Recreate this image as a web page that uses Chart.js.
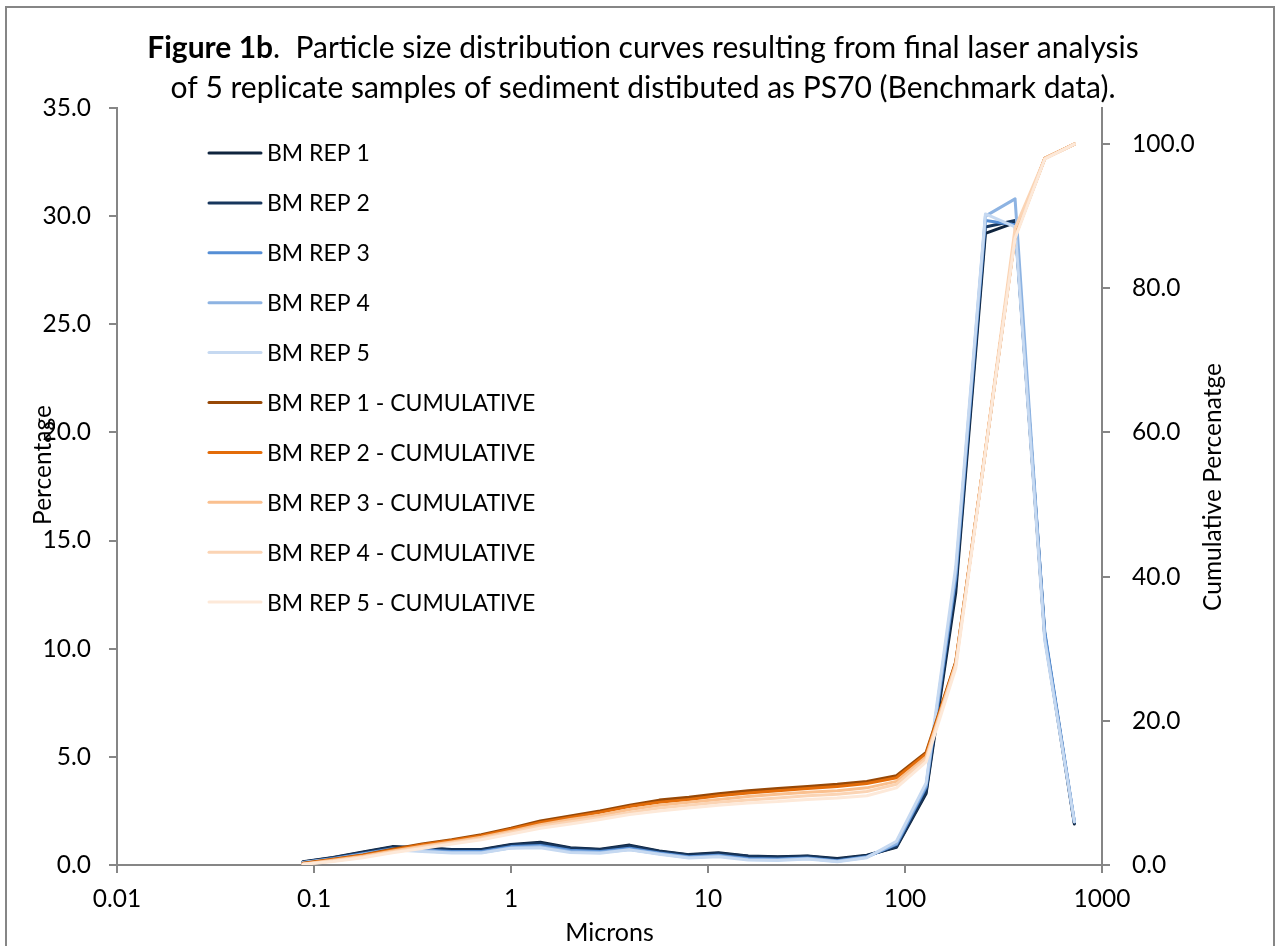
<!DOCTYPE html>
<html>
<head>
<meta charset="utf-8">
<title>Figure 1b - Particle size distribution</title>
<script src="https://cdn.jsdelivr.net/npm/chart.js@4.4.1/dist/chart.umd.min.js"></script>
<style>
  html, body { margin: 0; padding: 0; background: #fff; }
  #wrap { width: 1279px; height: 946px; }
</style>
</head>
<body>
<div id="wrap"><canvas id="psd" width="1279" height="946"></canvas></div>
<script>
// particle size bins (microns)
var sizes = [0.088, 0.125, 0.177, 0.25, 0.354, 0.5, 0.707, 1, 1.41, 2, 2.83, 4, 5.66, 8,
             11.3, 16, 22.6, 32, 45.3, 64, 90.5, 128, 181, 256, 362, 512, 724];

// percentage per bin
var rep1 = [0.15, 0.35, 0.6, 0.85, 0.8, 0.72, 0.72, 0.95, 1.05, 0.8, 0.73, 0.92, 0.65, 0.48,
            0.57, 0.42, 0.38, 0.42, 0.3, 0.45, 0.82, 3.3, 12.6, 29.2, 29.7, 10.6, 1.9];
var rep2 = [0.14, 0.34, 0.58, 0.82, 0.78, 0.7, 0.7, 0.92, 1.0, 0.78, 0.7, 0.88, 0.62, 0.46,
            0.53, 0.4, 0.36, 0.4, 0.27, 0.43, 0.85, 3.4, 12.9, 29.5, 29.8, 10.7, 1.95];
var rep3 = [0.12, 0.3, 0.52, 0.75, 0.7, 0.62, 0.62, 0.85, 0.9, 0.68, 0.62, 0.78, 0.56, 0.38,
            0.45, 0.3, 0.28, 0.32, 0.2, 0.38, 0.95, 3.6, 13.3, 29.8, 29.6, 10.8, 2.0];
var rep4 = [0.12, 0.28, 0.5, 0.72, 0.66, 0.58, 0.58, 0.8, 0.85, 0.62, 0.58, 0.72, 0.52, 0.35,
            0.42, 0.26, 0.24, 0.3, 0.17, 0.36, 1.0, 3.7, 13.5, 30.0, 30.8, 10.5, 2.0];
var rep5 = [0.1, 0.26, 0.47, 0.7, 0.62, 0.55, 0.55, 0.78, 0.8, 0.58, 0.54, 0.7, 0.5, 0.32,
            0.38, 0.23, 0.21, 0.28, 0.15, 0.34, 1.1, 3.8, 13.8, 30.1, 29.5, 10.4, 2.0];

// cumulative percentage
var cum1 = [0.25, 0.8, 1.4, 2.2, 2.9, 3.5, 4.2, 5.1, 6.1, 6.8, 7.5, 8.3, 9.0, 9.4,
            9.9, 10.3, 10.6, 10.9, 11.2, 11.6, 12.4, 15.6, 28.2, 57.4, 87.2, 98.0, 100];
var cum2 = [0.2, 0.75, 1.35, 2.1, 2.8, 3.4, 4.05, 4.95, 5.9, 6.6, 7.3, 8.1, 8.7, 9.1,
            9.6, 10.0, 10.3, 10.6, 10.9, 11.3, 12.1, 15.4, 28.1, 57.5, 87.3, 98.0, 100];
var cum3 = [0.15, 0.65, 1.2, 1.95, 2.6, 3.2, 3.85, 4.7, 5.6, 6.3, 6.9, 7.7, 8.3, 8.7,
            9.1, 9.5, 9.8, 10.1, 10.3, 10.7, 11.6, 15.0, 27.9, 57.5, 87.1, 98.0, 100];
var cum4 = [0.12, 0.55, 1.1, 1.8, 2.45, 3.05, 3.65, 4.5, 5.35, 6.0, 6.6, 7.3, 7.9, 8.3,
            8.7, 9.0, 9.3, 9.6, 9.8, 10.2, 11.2, 14.7, 27.7, 57.5, 88.3, 98.0, 100];
var cum5 = [0.1, 0.5, 1.0, 1.7, 2.3, 2.9, 3.5, 4.3, 5.1, 5.7, 6.3, 7.0, 7.5, 7.9,
            8.3, 8.6, 8.8, 9.1, 9.3, 9.6, 10.7, 14.3, 27.3, 57.3, 86.9, 97.9, 100];

var seriesNames = ["BM REP 1", "BM REP 2", "BM REP 3", "BM REP 4", "BM REP 5",
                   "BM REP 1 - CUMULATIVE", "BM REP 2 - CUMULATIVE", "BM REP 3 - CUMULATIVE",
                   "BM REP 4 - CUMULATIVE", "BM REP 5 - CUMULATIVE"];
var seriesColors = ["#0F243E", "#17365D", "#558ED5", "#8DB3E2", "#C6D9F1",
                    "#974806", "#E36C09", "#FAC08F", "#FBD4B4", "#FDE9D9"];

var xTicks = [0.01, 0.1, 1, 10, 100, 1000];
var xTickLabels = ["0.01", "0.1", "1", "10", "100", "1000"];
var yTicks = [0, 5, 10, 15, 20, 25, 30, 35];
var y1Ticks = [0, 20, 40, 60, 80, 100];

var FONT = "Lato, 'Open Sans', sans-serif";
var AXIS_GREY = "#868686";

function points(vals) {
  var out = [];
  for (var i = 0; i < sizes.length; i++) out.push({x: sizes[i], y: vals[i]});
  return out;
}

var allSeries = [rep1, rep2, rep3, rep4, rep5, cum1, cum2, cum3, cum4, cum5];
var datasets = [];
for (var i = 0; i < allSeries.length; i++) {
  datasets.push({
    label: seriesNames[i],
    data: points(allSeries[i]),
    yAxisID: i < 5 ? "y" : "y1",
    borderColor: seriesColors[i],
    backgroundColor: seriesColors[i],
    borderWidth: 3,
    pointRadius: 0,
    tension: 0,
    fill: false,
    borderJoinStyle: "round",
    borderCapStyle: "round",
    order: 20 - i  // later series painted on top, as in the original
  });
}

function vertText(ctx, text, x, y) {
  ctx.save();
  ctx.translate(x, y);
  ctx.rotate(-Math.PI / 2);
  ctx.textAlign = "center";
  ctx.fillText(text, 0, 0);
  ctx.restore();
}

// frame, title, both y axis titles (read bottom-up) and in-plot legend
var decor = {
  id: "decor",
  beforeDraw: function(chart) {
    var ctx = chart.ctx;
    ctx.save();
    ctx.fillStyle = "#fff";
    ctx.fillRect(0, 0, chart.width, chart.height);
    ctx.strokeStyle = AXIS_GREY;
    ctx.lineWidth = 2;
    ctx.strokeRect(6, 7, 1268, 980);
    ctx.restore();
  },
  afterDraw: function(chart) {
    var ctx = chart.ctx;
    ctx.save();
    ctx.fillStyle = "#000";
    ctx.textBaseline = "middle";

    // two-line title, "Figure 1b" in bold
    var bold = "bold 30px " + FONT, normal = "30px " + FONT;
    var head = "Figure 1b", rest = ".  Particle size distribution curves resulting from final laser analysis";
    ctx.font = bold;
    var wHead = ctx.measureText(head).width;
    ctx.font = normal;
    var wRest = ctx.measureText(rest).width;
    var x0 = 643 - (wHead + wRest) / 2;
    ctx.textAlign = "left";
    ctx.font = bold;
    ctx.fillText(head, x0, 48);
    ctx.font = normal;
    ctx.fillText(rest, x0 + wHead, 48);
    ctx.textAlign = "center";
    ctx.fillText("of 5 replicate samples of sediment distibuted as PS70 (Benchmark data).", 643, 88);

    // axis titles
    ctx.font = "24.5px " + FONT;
    vertText(ctx, "Percentage", 43, 465);
    vertText(ctx, "Cumulative Percenatge", 1213, 487);

    // legend
    ctx.textAlign = "left";
    ctx.lineCap = "round";
    ctx.font = "23px " + FONT;
    chart.data.datasets.forEach(function(ds, k) {
      var y = 153 + k * 49.9;
      ctx.strokeStyle = ds.borderColor;
      ctx.lineWidth = 3;
      ctx.beginPath();
      ctx.moveTo(209, y);
      ctx.lineTo(261, y);
      ctx.stroke();
      ctx.fillText(ds.label, 267, y + 1);
    });
    ctx.restore();
  }
};

var gridOpts = {display: true, drawOnChartArea: false, drawTicks: true, tickLength: 8, color: AXIS_GREY, lineWidth: 2};
var borderOpts = {display: true, color: AXIS_GREY, width: 2};

new Chart(document.getElementById("psd"), {
  type: "line",
  data: {datasets: datasets},
  options: {
    responsive: false,
    animation: false,
    devicePixelRatio: 1,
    layout: {padding: {top: 108, left: 0, right: 0, bottom: 0}},
    plugins: {legend: {display: false}, tooltip: {enabled: false}, title: {display: false}},
    scales: {
      x: {
        type: "logarithmic",
        position: "bottom",
        min: 0.01,
        max: 1000,
        afterBuildTicks: function(s) { s.ticks = xTicks.map(function(v) { return {value: v}; }); },
        afterFit: function(s) { s.height = 81; },
        ticks: {
          autoSkip: false, maxRotation: 0, padding: 11, color: "#000",
          font: {family: FONT, size: 24.5},
          callback: function(v, i) { return xTickLabels[i]; }
        },
        grid: gridOpts,
        border: borderOpts,
        title: {display: true, text: "Microns", color: "#000", font: {family: FONT, size: 25}, padding: {top: 0, bottom: -2}}
      },
      y: {
        type: "linear",
        position: "left",
        min: 0,
        max: 35,
        afterBuildTicks: function(s) { s.ticks = yTicks.map(function(v) { return {value: v}; }); },
        afterFit: function(s) { s.width = 117; },
        ticks: {
          padding: 18, color: "#000", font: {family: FONT, size: 24.5},
          callback: function(v) { return v.toFixed(1); }
        },
        grid: gridOpts,
        border: borderOpts
      },
      y1: {
        type: "linear",
        position: "right",
        min: 0,
        max: 105,
        afterBuildTicks: function(s) { s.ticks = y1Ticks.map(function(v) { return {value: v}; }); },
        afterFit: function(s) { s.width = 177; },
        ticks: {
          padding: 22, color: "#000", font: {family: FONT, size: 24.5},
          callback: function(v) { return v.toFixed(1); }
        },
        grid: gridOpts,
        border: borderOpts
      }
    }
  },
  plugins: [decor]
});
</script>
</body>
</html>
